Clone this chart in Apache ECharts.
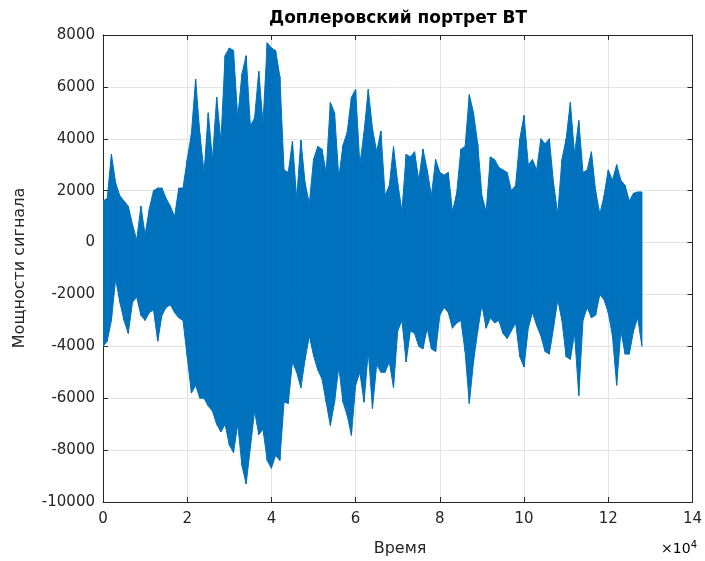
<!DOCTYPE html>
<html><head><meta charset="utf-8">
<script src="https://cdn.jsdelivr.net/npm/echarts@6/dist/echarts.min.js"></script>
<style>html,body{margin:0;padding:0;background:#fff}#c{width:705px;height:561px}</style>
</head><body><div id="c"></div><script>
// sample times (in thousands of time units)
const timeK = [0,1,2,3,4,5,6,7,8,9,10,11,12,13,14,15,16,17,18,19,20,21,22,23,24,25,26,27,28,29,30,31,32,33,34,35,36,37,38,39,40,41,42,43,44,45,46,47,48,49,50,51,52,53,54,55,56,57,58,59,60,61,62,63,64,65,66,67,68,69,70,71,72,73,74,75,76,77,78,79,80,81,82,83,84,85,86,87,88,89,90,91,92,93,94,95,96,97,98,99,100,101,102,103,104,105,106,107,108,109,110,111,112,113,114,115,116,117,118,119,120,121,122,123,124,125,126,127,128];
// upper envelope of the signal
const upperEnv = [1600,1700,3400,2300,1800,1600,1400,700,100,1400,300,1300,2000,2100,2100,1700,1400,1000,2100,2100,3200,4200,6300,4200,2700,5000,3200,5600,3900,7200,7500,7400,4800,6500,7200,4500,4800,6600,4600,7700,7500,7400,6400,2800,2700,3900,1700,3950,2300,1500,3200,3700,3600,2700,5400,5000,2500,3750,4250,5600,5900,3000,4250,5900,4400,3500,4300,1800,2200,3700,2300,1200,3400,3300,3500,2400,3600,2800,1800,3200,2700,2600,2700,1200,1900,3600,3700,5700,5000,3800,1800,1200,3300,3200,2900,2800,2700,2000,2200,4000,4900,3000,3200,2800,4000,3800,4000,2300,1100,3200,4000,5400,3400,4700,2700,2800,3500,2000,1100,1800,2800,2400,3000,2400,2200,1600,1900,1950,1950];
// lower envelope of the signal
const lowerEnv = [-4000,-3800,-3000,-1400,-2300,-3000,-3500,-2300,-2100,-2800,-3000,-2700,-2600,-3800,-2800,-2500,-2400,-2700,-2900,-3000,-4400,-5800,-5500,-6000,-6000,-6300,-6500,-7000,-7300,-7000,-7800,-8100,-7000,-8600,-9300,-7900,-6500,-7400,-7200,-8400,-8700,-8200,-8400,-6150,-6200,-4600,-5000,-5600,-4500,-3600,-4350,-4900,-5250,-6150,-7050,-6150,-4800,-6150,-6660,-7430,-5500,-5000,-6150,-4200,-6400,-4700,-5000,-5000,-4600,-5600,-3400,-3000,-4600,-3400,-3500,-4000,-4100,-3300,-4100,-4200,-2800,-2500,-2700,-3300,-3100,-3000,-4200,-6200,-4600,-3400,-2400,-3300,-2900,-3100,-3000,-3500,-3700,-3400,-3100,-4400,-4800,-3300,-2700,-3200,-3600,-4200,-4300,-3300,-2200,-3000,-4400,-4500,-3500,-5900,-3000,-2500,-2900,-2800,-2000,-2200,-2700,-3600,-5500,-3400,-4300,-4300,-3400,-2900,-4000];

const titleText = 'Доплеровский портрет ВТ';
const xName = 'Время';
const yName = 'Мощности сигнала';

const FONT = 'DejaVu Sans';
const TXT = '#262626';
const BLUE = '#0072BD';

const envData = timeK.map((t, i) => [t * 1000, lowerEnv[i], upperEnv[i]]);

function renderBand(params, api) {
  const i = params.dataIndex;
  if (i >= envData.length - 1) return null;
  const n = envData[i + 1];
  const p1 = api.coord([api.value(0), api.value(2)]);
  const p2 = api.coord([n[0], n[2]]);
  const p3 = api.coord([n[0], n[1]]);
  const p4 = api.coord([api.value(0), api.value(1)]);
  return {
    type: 'polygon',
    shape: {points: [p1, p2, p3, p4]},
    style: {fill: BLUE, stroke: BLUE, lineWidth: 1}
  };
}

const chart = echarts.init(document.getElementById('c'), null, {renderer: 'canvas'});
chart.setOption({
  animation: false,
  backgroundColor: '#fff',
  grid: {left: 103, right: 8, top: 35, bottom: 59, containLabel: false},
  xAxis: [{
    type: 'value', min: 0, max: 140000, interval: 20000,
    axisLine: {show: true, onZero: false, lineStyle: {color: TXT}},
    axisTick: {show: true, inside: true, length: 5, lineStyle: {color: TXT}},
    axisLabel: {color: TXT, fontFamily: FONT, fontSize: 15, margin: 10, formatter: v => String(v / 10000)},
    splitLine: {show: true, lineStyle: {color: '#e3e3e3', width: 1}}
  }, {
    type: 'value', position: 'top', min: 0, max: 140000, interval: 20000,
    axisLine: {show: true, onZero: false, lineStyle: {color: TXT}},
    axisTick: {show: true, inside: true, length: 5, lineStyle: {color: TXT}},
    axisLabel: {show: false}, splitLine: {show: false}
  }],
  yAxis: [{
    type: 'value', min: -10000, max: 8000, interval: 2000,
    axisLine: {show: true, onZero: false, lineStyle: {color: TXT}},
    axisTick: {show: true, inside: true, length: 5, lineStyle: {color: TXT}},
    axisLabel: {color: TXT, fontFamily: FONT, fontSize: 15, margin: 8, formatter: v => String(v)},
    splitLine: {show: true, lineStyle: {color: '#e3e3e3', width: 1}}
  }, {
    type: 'value', position: 'right', min: -10000, max: 8000, interval: 2000,
    axisLine: {show: true, onZero: false, lineStyle: {color: TXT}},
    axisTick: {show: true, inside: true, length: 5, lineStyle: {color: TXT}},
    axisLabel: {show: false}, splitLine: {show: false}
  }],
  series: [{
    type: 'custom', data: envData, renderItem: renderBand,
    encode: {x: 0, y: [1, 2]}, clip: true, z: 3
  }],
  graphic: [
    {type: 'text', x: 398, y: 19, style: {text: titleText, font: 'bold 17px "DejaVu Sans"', fill: '#000', align: 'center', verticalAlign: 'middle'}},
    {type: 'text', x: 400, y: 549, style: {text: xName, font: '16px "DejaVu Sans"', fill: TXT, align: 'center', verticalAlign: 'middle'}},
    {type: 'text', x: 20, y: 268, rotation: Math.PI / 2, style: {text: yName, font: '16px "DejaVu Sans"', fill: TXT, align: 'center', verticalAlign: 'middle'}},
    {type: 'text', x: 697, y: 549, style: {
      text: '{a|×10}{b|4}', align: 'right', verticalAlign: 'middle',
      rich: {a: {fontSize: 14, fontFamily: FONT, color: TXT},
             b: {fontSize: 10, fontFamily: FONT, color: TXT, verticalAlign: 'top', padding: [0, 0, 8, 0]}}
    }}
  ]
});
</script></body></html>
